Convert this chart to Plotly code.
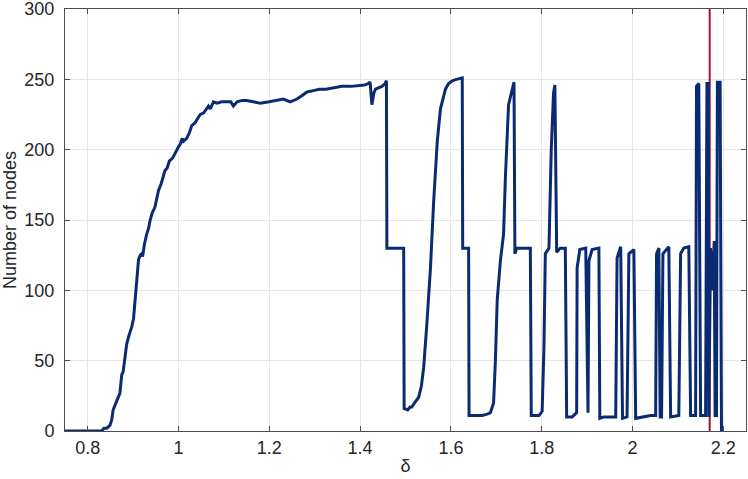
import plotly.graph_objects as go

# ---- datos ----
delta = [
    0.750, 0.831, 0.836, 0.842, 0.849, 0.853, 0.856, 0.862, 0.867, 0.871,
    0.875, 0.878, 0.882, 0.886, 0.891, 0.897, 0.901, 0.904, 0.908, 0.910,
    0.912, 0.916, 0.919, 0.921, 0.925, 0.930, 0.934, 0.937, 0.942, 0.948,
    0.952, 0.956, 0.962, 0.970, 0.975, 0.980, 0.987, 0.993, 1.000, 1.004,
    1.008, 1.011, 1.018, 1.024, 1.029, 1.036, 1.042, 1.048, 1.055, 1.062,
    1.066, 1.070, 1.077, 1.085, 1.095, 1.107, 1.115, 1.121, 1.129, 1.140,
    1.150, 1.165, 1.180, 1.200, 1.217, 1.231, 1.246, 1.255, 1.261, 1.270,
    1.283, 1.297, 1.310, 1.325, 1.342, 1.360, 1.380, 1.400, 1.410, 1.418,
    1.422, 1.426, 1.430, 1.434, 1.440, 1.448, 1.455, 1.458,
    1.459, 1.496, 1.497, 1.505, 1.510, 1.514, 1.520, 1.529, 1.535, 1.540,
    1.547, 1.555, 1.562, 1.570, 1.577, 1.583, 1.588, 1.595, 1.603, 1.612,
    1.625, 1.626, 1.639, 1.640, 1.655, 1.669, 1.680, 1.687, 1.694, 1.698,
    1.702, 1.709, 1.716, 1.720, 1.727, 1.733, 1.739, 1.741, 1.745, 1.775,
    1.777, 1.794, 1.801, 1.805, 1.808, 1.816, 1.821, 1.826, 1.829, 1.833,
    1.841, 1.852, 1.855, 1.867, 1.877, 1.878, 1.884, 1.897, 1.902, 1.904,
    1.911, 1.926, 1.928, 1.937, 1.963, 1.966, 1.974, 1.978, 1.988, 1.992,
    2.003, 2.007, 2.040, 2.051, 2.053, 2.058, 2.061, 2.064, 2.067, 2.080,
    2.084, 2.102, 2.106, 2.113, 2.124, 2.128, 2.139, 2.141, 2.146, 2.150,
    2.161, 2.164, 2.167, 2.168, 2.170, 2.172, 2.176, 2.178, 2.180, 2.182,
    2.185, 2.187, 2.193, 2.196,
]
nodos = [
    0, 0, 2, 2, 4, 8, 15, 20, 24, 27,
    40, 42, 52, 62, 68, 74, 80, 93, 110, 119,
    122, 125, 126, 124, 133, 140, 144, 149, 155, 159,
    166, 171, 176, 185, 187, 192, 194, 198, 202, 204,
    208, 206, 208, 212, 217, 219, 222, 225, 226, 229,
    231, 229, 234, 233, 234, 234, 234, 231, 234, 235,
    235, 234, 233, 234, 235, 236, 234, 235, 236, 238,
    241, 242, 243, 243, 244, 245, 245, 246, 246, 247,
    248, 232, 240, 243, 244, 245, 247, 249,
    130, 130, 16, 15, 17, 17, 20, 24, 32, 45,
    76, 116, 163, 206, 229, 238, 243, 247, 249, 250,
    251, 130, 130, 11, 11, 11, 12, 13, 20, 50,
    93, 121, 140, 180, 232, 240, 248, 126, 130, 130,
    11, 11, 14, 60, 126, 130, 199, 240, 246, 127,
    130, 130, 10, 10, 13, 116, 129, 130, 13, 121,
    129, 130, 9, 10, 10, 123, 131, 9, 10, 126,
    129, 9, 11, 11, 126, 130, 10, 10, 126, 131,
    10, 11, 126, 130, 131, 11, 11, 245, 247, 11,
    11, 247, 247, 10, 60, 130, 100, 125, 135, 11,
    11, 248, 248, -1,
]

delta_critico = 2.17  # linea roja vertical

x_ticks = [0.8, 1.0, 1.2, 1.4, 1.6, 1.8, 2.0, 2.2]
x_labels = ["0.8", "1", "1.2", "1.4", "1.6", "1.8", "2", "2.2"]
y_ticks = [0, 50, 100, 150, 200, 250, 300]

FUENTE = dict(family="Liberation Sans, Arial, sans-serif", size=18, color="#262626")

fig = go.Figure()

# linea roja primero, asi queda debajo de la curva azul
fig.add_trace(go.Scatter(
    x=[delta_critico, delta_critico], y=[0, 300],
    mode="lines", line=dict(color="#a2142f", width=2),
    showlegend=False, hoverinfo="skip",
))

fig.add_trace(go.Scatter(
    x=delta, y=nodos, mode="lines",
    line=dict(color="#0a2b72", width=3),
    cliponaxis=False, showlegend=False,
))

eje = dict(
    showline=True, linecolor="#4d4d4d", linewidth=1, mirror="ticks",
    ticks="inside", ticklen=5, tickcolor="#4d4d4d",
    showgrid=True, gridcolor="#e6e6e6", gridwidth=1,
    zeroline=False, tickfont=FUENTE, ticklabeloverflow="allow",
)

fig.update_xaxes(
    range=[0.75, 2.25], tickvals=x_ticks, ticktext=x_labels,
    title=dict(text="δ", font=FUENTE, standoff=2), **eje,
)
fig.update_yaxes(
    range=[0, 300], tickvals=y_ticks, ticklabelstandoff=6,
    title=dict(text="Number of nodes", font=FUENTE, standoff=4), **eje,
)

fig.update_layout(
    width=748, height=479,
    margin=dict(l=65, r=2, t=9, b=48, autoexpand=False),
    plot_bgcolor="white", paper_bgcolor="white",
    font=FUENTE,
)

# sin margen del body para que la figura empiece en (0, 0)
fig.write_html(
    "out.html",
    config={"displayModeBar": False},
    post_script="document.body.style.margin='0px';",
)
